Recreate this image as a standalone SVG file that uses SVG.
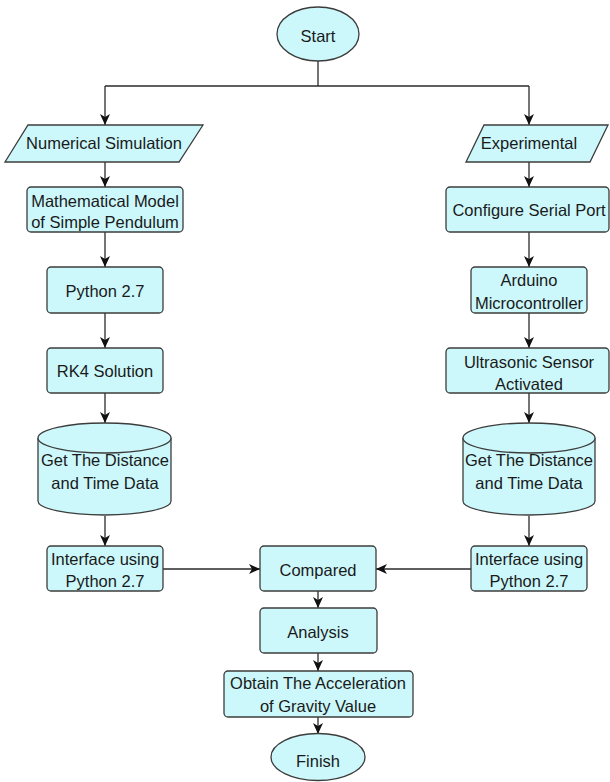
<svg xmlns="http://www.w3.org/2000/svg" width="610" height="782" viewBox="0 0 610 782">
<style>
.n{fill:#ccf8fb;stroke:#3c3c3c;stroke-width:1.3}
.t{font-family:"Liberation Sans",Arial,sans-serif;font-size:16.5px;fill:#1a1a1a;text-anchor:middle}
.c{fill:none;stroke:#2a2a2a;stroke-width:1.3}
</style>
<defs>
<marker id="a" markerUnits="userSpaceOnUse" markerWidth="12" markerHeight="10" refX="11" refY="5" orient="auto">
<path d="M0,0 L11,5 L0,10 L3,5 z" fill="#111"/>
</marker>
</defs>
<rect width="610" height="782" fill="#fff"/>
<g id="connectors">
<path class="c" d="M318,61 V86"/>
<path class="c" d="M105,86 H529"/>
<path class="c" marker-end="url(#a)" d="M105,86 V125"/>
<path class="c" marker-end="url(#a)" d="M529,86 V125"/>
<path class="c" marker-end="url(#a)" d="M105,162 V187"/>
<path class="c" marker-end="url(#a)" d="M529,162 V187"/>
<path class="c" marker-end="url(#a)" d="M105,232 V267"/>
<path class="c" marker-end="url(#a)" d="M529,232 V267"/>
<path class="c" marker-end="url(#a)" d="M105,313 V348"/>
<path class="c" marker-end="url(#a)" d="M529,313 V348"/>
<path class="c" marker-end="url(#a)" d="M105,393 V423"/>
<path class="c" marker-end="url(#a)" d="M529,393 V423"/>
<path class="c" marker-end="url(#a)" d="M105,516 V546"/>
<path class="c" marker-end="url(#a)" d="M529,516 V546"/>
<path class="c" marker-end="url(#a)" d="M163,569 H260"/>
<path class="c" marker-end="url(#a)" d="M471,569 H376"/>
<path class="c" marker-end="url(#a)" d="M318,591 V608"/>
<path class="c" marker-end="url(#a)" d="M318,653 V671"/>
<path class="c" marker-end="url(#a)" d="M318,717 V734"/>
</g>
<g id="start">
<ellipse class="n" cx="318" cy="34" rx="41" ry="27"/>
<text class="t" x="318" y="42">Start</text>
</g>
<g id="numerical-simulation">
<polygon class="n" points="28,125 203,125 179,162 5,162"/>
<text class="t" x="104" y="149">Numerical Simulation</text>
</g>
<g id="experimental">
<polygon class="n" points="484,125 608,125 590,162 466,162"/>
<text class="t" x="529" y="149">Experimental</text>
</g>
<g id="math-model">
<rect class="n" x="27" y="187" width="156" height="45" rx="4"/>
<text class="t" x="105" y="206.5">Mathematical Model</text>
<text class="t" x="105" y="228">of Simple Pendulum</text>
</g>
<g id="configure-serial-port">
<rect class="n" x="446" y="187" width="163" height="45" rx="4"/>
<text class="t" x="529" y="216">Configure Serial Port</text>
</g>
<g id="python-27">
<rect class="n" x="47" y="267" width="116" height="46" rx="4"/>
<text class="t" x="105" y="297">Python 2.7</text>
</g>
<g id="arduino">
<rect class="n" x="471" y="267" width="116" height="46" rx="4"/>
<text class="t" x="529" y="286">Arduino</text>
<text class="t" x="529" y="309">Microcontroller</text>
</g>
<g id="rk4">
<rect class="n" x="47" y="348" width="116" height="45" rx="4"/>
<text class="t" x="105" y="377">RK4 Solution</text>
</g>
<g id="ultrasonic">
<rect class="n" x="446" y="348" width="163" height="45" rx="4"/>
<text class="t" x="529" y="368">Ultrasonic Sensor</text>
<text class="t" x="529" y="390">Activated</text>
</g>
<g id="data-left">
<path class="n" d="M38,438 A66.5,15 0 0 1 171,438 V501 A66.5,14 0 0 1 38,501 Z"/>
<path class="n" fill="none" d="M38,438 A66.5,15 0 0 0 171,438"/>
<text class="t" x="105" y="466">Get The Distance</text>
<text class="t" x="105" y="489">and Time Data</text>
</g>
<g id="data-right">
<path class="n" d="M463,438 A66,15 0 0 1 595,438 V501 A66,14 0 0 1 463,501 Z"/>
<path class="n" fill="none" d="M463,438 A66,15 0 0 0 595,438"/>
<text class="t" x="529" y="466">Get The Distance</text>
<text class="t" x="529" y="489">and Time Data</text>
</g>
<g id="interface-left">
<rect class="n" x="47" y="546" width="116" height="45" rx="4"/>
<text class="t" x="105" y="565">Interface using</text>
<text class="t" x="105" y="587">Python 2.7</text>
</g>
<g id="interface-right">
<rect class="n" x="471" y="546" width="116" height="45" rx="4"/>
<text class="t" x="529" y="565">Interface using</text>
<text class="t" x="529" y="587">Python 2.7</text>
</g>
<g id="compared">
<rect class="n" x="260" y="546" width="116" height="45" rx="4"/>
<text class="t" x="318" y="576">Compared</text>
</g>
<g id="analysis">
<rect class="n" x="260" y="608" width="117" height="45" rx="4"/>
<text class="t" x="318" y="638">Analysis</text>
</g>
<g id="obtain">
<rect class="n" x="224" y="671" width="189" height="46" rx="4"/>
<text class="t" x="318" y="689">Obtain The Acceleration</text>
<text class="t" x="318" y="712">of Gravity Value</text>
</g>
<g id="finish">
<ellipse class="n" cx="318" cy="757" rx="47" ry="23.5"/>
<text class="t" x="318" y="767">Finish</text>
</g>
</svg>
